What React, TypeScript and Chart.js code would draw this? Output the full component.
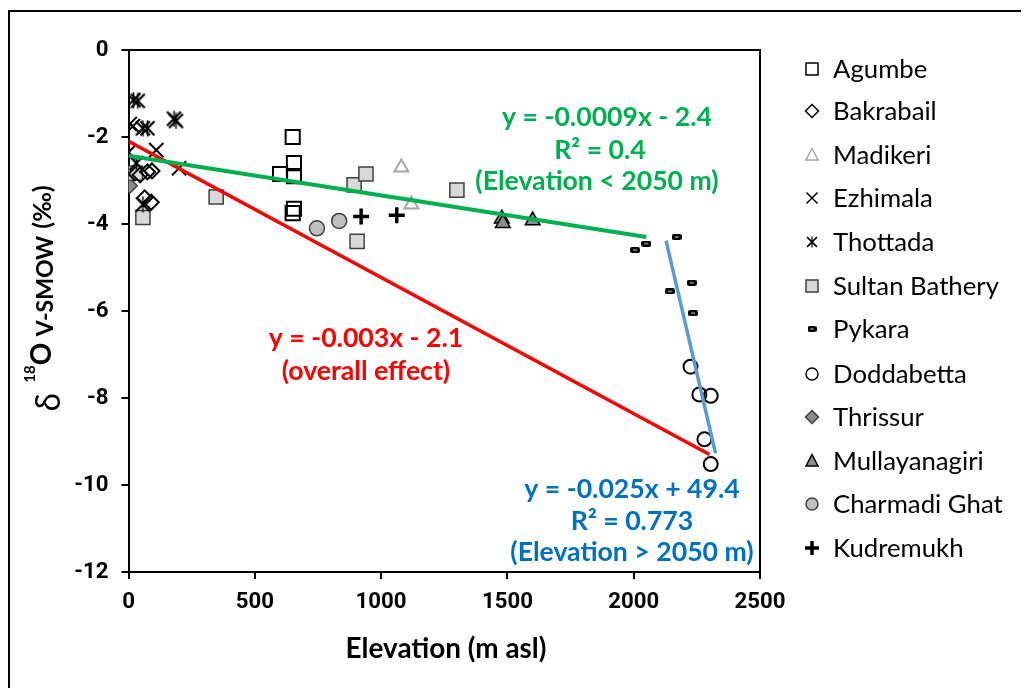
import React, { useEffect, useRef } from 'react';
import { Chart, registerables } from 'chart.js';
Chart.register(...registerables);

type P = { x: number; y: number };

const seriesNames = ['Agumbe', 'Bakrabail', 'Madikeri', 'Ezhimala', 'Thottada', 'Sultan Bathery', 'Pykara', 'Doddabetta', 'Thrissur', 'Mullayanagiri', 'Charmadi Ghat', 'Kudremukh'];

const agumbe: P[] = [{ x: 650, y: -2.0 }, { x: 655, y: -2.6 }, { x: 600, y: -2.85 }, { x: 655, y: -2.9 }, { x: 655, y: -3.65 }, { x: 650, y: -3.75 }];
const bakrabail: P[] = [{ x: 46, y: -2.87 }, { x: 75, y: -2.8 }, { x: 93, y: -2.78 }, { x: 64, y: -3.4 }, { x: 90, y: -3.5 }];
const madikeri: P[] = [{ x: 1080, y: -2.7 }, { x: 1120, y: -3.55 }];
const ezhimala: P[] = [{ x: 5, y: -1.7 }, { x: 18, y: -1.75 }, { x: 0, y: -2.35 }, { x: 110, y: -2.3 }, { x: 200, y: -2.72 }, { x: 0, y: -2.85 }];
const thottada: P[] = [{ x: 20, y: -1.15 }, { x: 37, y: -1.17 }, { x: 57, y: -1.8 }, { x: 75, y: -1.8 }, { x: 180, y: -1.58 }, { x: 188, y: -1.63 }, { x: 31, y: -2.6 }, { x: 57, y: -3.55 }];
const sultanBathery: P[] = [{ x: 27, y: -2.83 }, { x: 57, y: -3.85 }, { x: 347, y: -3.38 }, { x: 893, y: -3.1 }, { x: 940, y: -2.85 }, { x: 1300, y: -3.22 }, { x: 905, y: -4.4 }];
const pykara: P[] = [{ x: 2005, y: -4.6 }, { x: 2050, y: -4.45 }, { x: 2170, y: -4.3 }, { x: 2143, y: -5.55 }, { x: 2230, y: -5.35 }, { x: 2235, y: -6.05 }];
const doddabetta: P[] = [{ x: 2225, y: -7.28 }, { x: 2260, y: -7.92 }, { x: 2305, y: -7.95 }, { x: 2280, y: -8.95 }, { x: 2305, y: -9.52 }];
const thrissur: P[] = [{ x: 5, y: -3.12 }];
const mullayanagiri: P[] = [{ x: 1478, y: -3.88 }, { x: 1482, y: -3.98 }, { x: 1600, y: -3.92 }];
const charmadiGhat: P[] = [{ x: 746, y: -4.1 }, { x: 834, y: -3.93 }];
const kudremukh: P[] = [{ x: 921, y: -3.83 }, { x: 1062, y: -3.8 }];

const greenTrend: P[] = [{ x: 0, y: -2.43 }, { x: 2050, y: -4.3 }];
const redTrend: P[] = [{ x: 0, y: -2.1 }, { x: 2300, y: -9.3 }];
const blueTrend: P[] = [{ x: 2128, y: -4.38 }, { x: 2324, y: -9.27 }];

const greenLabel = ['y = -0.0009x - 2.4', 'R² = 0.4', '(Elevation < 2050 m)'];
const redLabel = ['y = -0.003x - 2.1', '(overall effect)'];
const blueLabel = ['y = -0.025x + 49.4', 'R² = 0.773', '(Elevation > 2050 m)'];

const xTicks = [0, 500, 1000, 1500, 2000, 2500];
const yTicks = [0, -2, -4, -6, -8, -10, -12];

const FAM = 'Lato, "Noto Sans", sans-serif';
const TICK_FAM = 'Roboto, Lato, sans-serif';
const GREEN = '#00B050';
const RED = '#FF0000';
const BLUE = '#0070C0';
const BLUE_LINE = '#5B9BD5';

function fitSize(ctx: CanvasRenderingContext2D, text: string, weight: string, target: number, fam: string = FAM) {
  ctx.font = `${weight} 100px ${fam}`;
  const w = ctx.measureText(text).width;
  return (100 * target) / w;
}

function makeThottada(size: number, lw: number, vlw: number) {
  const c = document.createElement('canvas');
  c.width = size; c.height = size;
  const g = c.getContext('2d')!;
  g.strokeStyle = '#000'; g.lineCap = 'butt';
  const m = lw * 0.7;
  g.lineWidth = lw;
  g.beginPath();
  g.moveTo(m, m); g.lineTo(size - m, size - m);
  g.moveTo(size - m, m); g.lineTo(m, size - m);
  g.stroke();
  g.lineWidth = vlw;
  g.beginPath();
  g.moveTo(size / 2, 0.5); g.lineTo(size / 2, size - 0.5);
  g.stroke();
  return c;
}

function makePykara(w: number, h: number) {
  const c = document.createElement('canvas');
  c.width = w; c.height = h;
  const g = c.getContext('2d')!;
  const r = 2;
  g.fillStyle = '#000';
  g.beginPath();
  g.moveTo(r, 0); g.lineTo(w - r, 0); g.quadraticCurveTo(w, 0, w, r);
  g.lineTo(w, h - r); g.quadraticCurveTo(w, h, w - r, h);
  g.lineTo(r, h); g.quadraticCurveTo(0, h, 0, h - r);
  g.lineTo(0, r); g.quadraticCurveTo(0, 0, r, 0);
  g.fill();
  g.strokeStyle = '#e0e0e0'; g.lineWidth = 1;
  g.beginPath(); g.moveTo(3, h / 2); g.lineTo(w - 3, h / 2); g.stroke();
  return c;
}

function drawLegendSymbol(ctx: CanvasRenderingContext2D, i: number, x: number, y: number, thot: HTMLCanvasElement, pyk: HTMLCanvasElement) {
  ctx.save();
  ctx.lineWidth = 1.5;
  ctx.strokeStyle = '#000';
  const s = 6;
  ctx.beginPath();
  switch (i) {
    case 0: ctx.rect(x - s, y - s, 2 * s, 2 * s); ctx.stroke(); break;
    case 1: ctx.moveTo(x, y - 6.5); ctx.lineTo(x + 6.5, y); ctx.lineTo(x, y + 6.5); ctx.lineTo(x - 6.5, y); ctx.closePath(); ctx.stroke(); break;
    case 2: ctx.strokeStyle = '#A6A6A6'; ctx.moveTo(x, y - 6.5); ctx.lineTo(x + 6, y + 5); ctx.lineTo(x - 6, y + 5); ctx.closePath(); ctx.stroke(); break;
    case 3: ctx.moveTo(x - 5.5, y - 5.5); ctx.lineTo(x + 5.5, y + 5.5); ctx.moveTo(x + 5.5, y - 5.5); ctx.lineTo(x - 5.5, y + 5.5); ctx.stroke(); break;
    case 4: ctx.drawImage(thot, x - thot.width / 2, y - thot.height / 2); break;
    case 5: ctx.fillStyle = '#D9D9D9'; ctx.strokeStyle = '#404040'; ctx.rect(x - s, y - s, 2 * s, 2 * s); ctx.fill(); ctx.stroke(); break;
    case 6: ctx.drawImage(pyk, x - pyk.width / 2, y - pyk.height / 2); break;
    case 7: ctx.arc(x, y, 6, 0, Math.PI * 2); ctx.stroke(); break;
    case 8: ctx.fillStyle = '#8C8C8C'; ctx.strokeStyle = '#404040'; ctx.moveTo(x, y - 6.5); ctx.lineTo(x + 6.5, y); ctx.lineTo(x, y + 6.5); ctx.lineTo(x - 6.5, y); ctx.closePath(); ctx.fill(); ctx.stroke(); break;
    case 9: ctx.fillStyle = '#8C8C8C'; ctx.moveTo(x, y - 6.5); ctx.lineTo(x + 6, y + 5); ctx.lineTo(x - 6, y + 5); ctx.closePath(); ctx.fill(); ctx.stroke(); break;
    case 10: ctx.fillStyle = '#BFBFBF'; ctx.strokeStyle = '#404040'; ctx.arc(x, y, 6, 0, Math.PI * 2); ctx.fill(); ctx.stroke(); break;
    case 11: ctx.lineWidth = 3.5; ctx.moveTo(x - 7, y); ctx.lineTo(x + 7, y); ctx.moveTo(x, y - 7); ctx.lineTo(x, y + 7); ctx.stroke(); break;
  }
  ctx.restore();
}

export default function App() {
  const ref = useRef<HTMLCanvasElement>(null);
  useEffect(() => {
    if (!ref.current) return;
    const thotData = makeThottada(17, 2.2, 1.5);
    const thotLeg = makeThottada(12, 1.6, 1.2);
    const pykData = makePykara(10, 6);
    const pykLeg = makePykara(9, 6);
    const mctx = document.createElement('canvas').getContext('2d')!;
    const tickSize = Math.max(fitSize(mctx, '2500', 'bold', 51, TICK_FAM), 20);

    const OX = 8, OY = 8; // page offset of canvas

    const overlay = {
      id: 'overlay',
      afterDraw(chart: any) {
        const ctx: CanvasRenderingContext2D = chart.ctx;
        const a = chart.chartArea;
        ctx.save();
        // outer frame
        ctx.strokeStyle = '#000';
        ctx.lineWidth = 2;
        ctx.strokeRect(1, 3, 3000, 3000);
        // plot box top & right
        ctx.lineWidth = 2;
        ctx.beginPath();
        ctx.moveTo(a.left, a.top); ctx.lineTo(a.right, a.top); ctx.lineTo(a.right, a.bottom);
        ctx.stroke();

        ctx.textAlign = 'center';
        ctx.textBaseline = 'middle';
        // annotations
        const annSize = fitSize(ctx, greenLabel[0], 'bold', 210);
        ctx.font = `bold ${annSize}px ${FAM}`;
        ctx.fillStyle = GREEN;
        const gPos = [[607, 117], [600, 150], [597, 181]];
        greenLabel.forEach((t, i) => ctx.fillText(t, gPos[i][0] - OX, gPos[i][1] - OY));
        ctx.fillStyle = RED;
        const rPos = [[366, 338], [366, 371]];
        redLabel.forEach((t, i) => ctx.fillText(t, rPos[i][0] - OX, rPos[i][1] - OY));
        ctx.fillStyle = BLUE;
        const bPos = [[632, 489], [632, 521], [632, 552]];
        blueLabel.forEach((t, i) => ctx.fillText(t, bPos[i][0] - OX, bPos[i][1] - OY));

        // x title
        ctx.fillStyle = '#000';
        const xs = fitSize(ctx, 'Elevation (m asl)', 'bold', 201);
        ctx.font = `bold ${xs}px ${FAM}`;
        ctx.fillText('Elevation (m asl)', 446 - OX, 649 - OY);

        // y title pieces (rotated)
        const rot = (t: string, font: string, cx: number, cy: number) => {
          ctx.save();
          ctx.translate(cx - OX, cy - OY);
          ctx.rotate(-Math.PI / 2);
          ctx.font = font;
          ctx.fillText(t, 0, 0);
          ctx.restore();
        };
        rot('(‰)', `bold 25px ${FAM}`, 43, 207);
        rot('V-SMOW', `bold 23px ${FAM}`, 46, 286);
        rot('O', `bold 28px ${FAM}`, 42, 354);
        rot('18', `bold 15px ${FAM}`, 30, 374);
        rot('δ', `32px "Noto Sans", "DejaVu Sans", sans-serif`, 51, 402);

        // legend
        const ls = fitSize(ctx, 'Sultan Bathery', 'normal', 166);
        ctx.font = `${ls}px ${FAM}`;
        ctx.textAlign = 'left';
        const rows = [69, 111, 155, 198, 242, 286, 329, 374, 417, 461, 504, 548];
        seriesNames.forEach((n, i) => {
          drawLegendSymbol(ctx, i, 812 - OX, rows[i] - OY, thotLeg, pykLeg);
          ctx.fillStyle = '#000';
          ctx.fillText(n, 833 - OX, rows[i] - OY + 1);
        });
        ctx.restore();
      },
    };

    const sc = (data: P[], o: any) => ({ type: 'scatter', data, order: 1, ...o });
    const tr = (data: P[], color: string, w: number) => ({ type: 'scatter', data, showLine: true, borderColor: color, borderWidth: w, pointRadius: 0, order: 0, fill: false });
    const tickFont = { family: TICK_FAM, size: tickSize, weight: 'bold' };

    const chart = new Chart(ref.current, {
      type: 'scatter',
      data: {
        datasets: [
          tr(greenTrend, GREEN, 4),
          tr(redTrend, RED, 3.5),
          tr(blueTrend, BLUE_LINE, 3.5),
          sc(agumbe, { label: seriesNames[0], pointStyle: 'rect', pointRadius: 10, backgroundColor: 'rgba(0,0,0,0)', borderColor: '#000', borderWidth: 2 }),
          sc(bakrabail, { label: seriesNames[1], pointStyle: 'rectRot', pointRadius: 7.5, backgroundColor: 'rgba(0,0,0,0)', borderColor: '#000', borderWidth: 2 }),
          sc(madikeri, { label: seriesNames[2], pointStyle: 'triangle', pointRadius: 8, backgroundColor: 'rgba(0,0,0,0)', borderColor: '#A6A6A6', borderWidth: 2 }),
          sc(ezhimala, { label: seriesNames[3], pointStyle: 'crossRot', pointRadius: 10, borderColor: '#000', borderWidth: 2 }),
          sc(thottada, { label: seriesNames[4], pointStyle: thotData, pointRadius: 8 }),
          sc(sultanBathery, { label: seriesNames[5], pointStyle: 'rect', pointRadius: 10, backgroundColor: '#D9D9D9', borderColor: '#404040', borderWidth: 1.5 }),
          sc(pykara, { label: seriesNames[6], pointStyle: pykData, pointRadius: 5 }),
          sc(doddabetta, { label: seriesNames[7], pointStyle: 'circle', pointRadius: 7, backgroundColor: 'rgba(0,0,0,0)', borderColor: '#000', borderWidth: 2 }),
          sc(thrissur, { label: seriesNames[8], pointStyle: 'rectRot', pointRadius: 7.5, backgroundColor: '#8C8C8C', borderColor: '#404040', borderWidth: 1.5 }),
          sc(mullayanagiri, { label: seriesNames[9], pointStyle: 'triangle', pointRadius: 8.5, backgroundColor: '#8C8C8C', borderColor: '#000', borderWidth: 1.5 }),
          sc(charmadiGhat, { label: seriesNames[10], pointStyle: 'circle', pointRadius: 7.5, backgroundColor: '#BFBFBF', borderColor: '#404040', borderWidth: 1.5 }),
          sc(kudremukh, { label: seriesNames[11], pointStyle: 'cross', pointRadius: 8, borderColor: '#000', borderWidth: 3.5 }),
        ] as any,
      },
      options: {
        animation: false,
        responsive: true,
        maintainAspectRatio: false,
        layout: { padding: { left: 0, right: 269, top: 42, bottom: 0 } },
        plugins: { legend: { display: false }, tooltip: { enabled: false } },
        scales: {
          x: {
            type: 'linear', min: 0, max: 2500,
            afterFit: (s: any) => { s.height = 116; },
            afterBuildTicks: (s: any) => { s.ticks = xTicks.map((v) => ({ value: v })); },
            grid: { display: true, drawOnChartArea: false, drawTicks: true, tickLength: 7, color: '#000', lineWidth: 2 },
            border: { display: true, color: '#000', width: 2 },
            ticks: { color: '#000', font: tickFont, padding: 10, maxRotation: 0, callback: (v: any) => String(v) },
          },
          y: {
            type: 'linear', min: -12, max: 0,
            afterFit: (s: any) => { s.width = 120.5; },
            afterBuildTicks: (s: any) => { s.ticks = yTicks.map((v) => ({ value: v })); },
            grid: { display: true, drawOnChartArea: false, drawTicks: true, tickLength: 7, color: '#000', lineWidth: 2 },
            border: { display: true, color: '#000', width: 2 },
            ticks: { color: '#000', font: tickFont, padding: 13, callback: (v: any) => String(v) },
          },
        },
      } as any,
      plugins: [overlay],
    });
    return () => chart.destroy();
  }, []);

  return (
    <div style={{ position: 'relative', width: 1021, height: 680, overflow: 'hidden', background: '#fff' }}>
      <canvas ref={ref} />
    </div>
  );
}
